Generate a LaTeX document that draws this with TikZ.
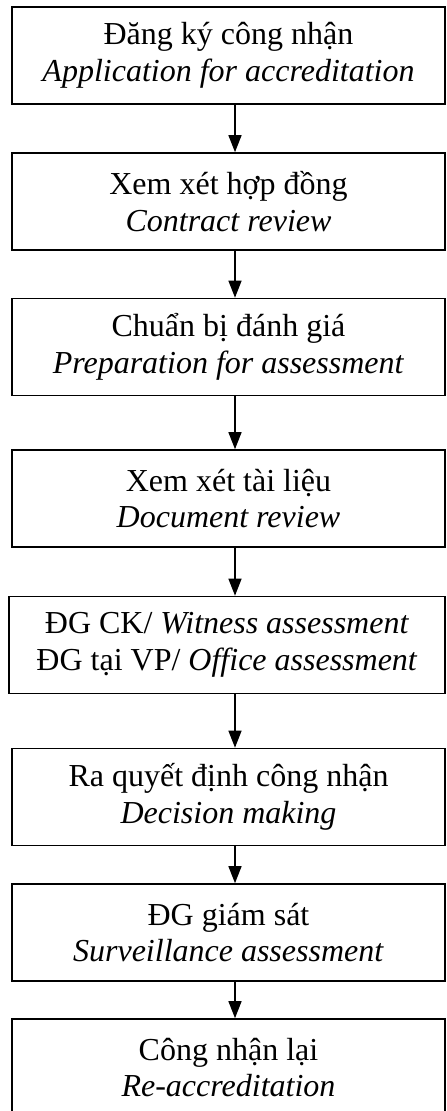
\documentclass[tikz,border=0pt]{standalone}
\usepackage{fontspec}
\setmainfont{Liberation Serif}
\usetikzlibrary{arrows.meta}

\begin{document}
\begin{tikzpicture}[x=0.5pt, y=-0.5pt]

    % Define styles
    \tikzset{
        stage box/.style={draw=black, line width=0.8pt, minimum width=216.5pt,
            minimum height=48.5pt, inner sep=0pt, align=center,
            font=\fontsize{16}{18.4}\selectfont},
        flow arrow/.style={-{Triangle[length=8.5pt, width=6.5pt]}, line width=0.65pt}
    }

    % Page frame (cuts the last box off at the bottom)
    \clip (0, 0) rectangle (446, 1111);

    % Column of the arrows
    \coordinate (ax) at (235, 0);

    % Stages of the accreditation process
    \node[stage box] (dangky) at (228.5, 55.5) {Đăng ký công nhận\\ \textit{Application for accreditation}};
    \node[stage box] (hopdong) at (228.5, 201.5) {Xem xét hợp đồng\\ \textit{Contract review}};
    \node[stage box] (chuanbi) at (228.5, 347) {Chuẩn bị đánh giá\\ \textit{Preparation for assessment}};
    \node[stage box] (tailieu) at (228.5, 498.5) {Xem xét tài liệu\\ \textit{Document review}};
    \node[stage box, minimum width=218pt] (danhgia) at (227, 645) {ĐG CK/ \textit{Witness assessment}\\ ĐG tại VP/ \textit{Office assessment}};
    \node[stage box] (quyetdinh) at (228.5, 797) {Ra quyết định công nhận\\ \textit{Decision making}};
    \node[stage box] (giamsat) at (228.5, 932.5) {ĐG giám sát\\ \textit{Surveillance assessment}};
    \node[stage box] (conglai) at (228.5, 1067.5) {Công nhận lại\\ \textit{Re-accreditation}};

    % Arrows between the stages
    \foreach \a/\b in {dangky/hopdong, hopdong/chuanbi, chuanbi/tailieu, tailieu/danhgia,
                       danhgia/quyetdinh, quyetdinh/giamsat, giamsat/conglai} {
        \draw[flow arrow] (\a.south -| ax) -- (\b.north -| ax);
    }

\end{tikzpicture}
\end{document}
